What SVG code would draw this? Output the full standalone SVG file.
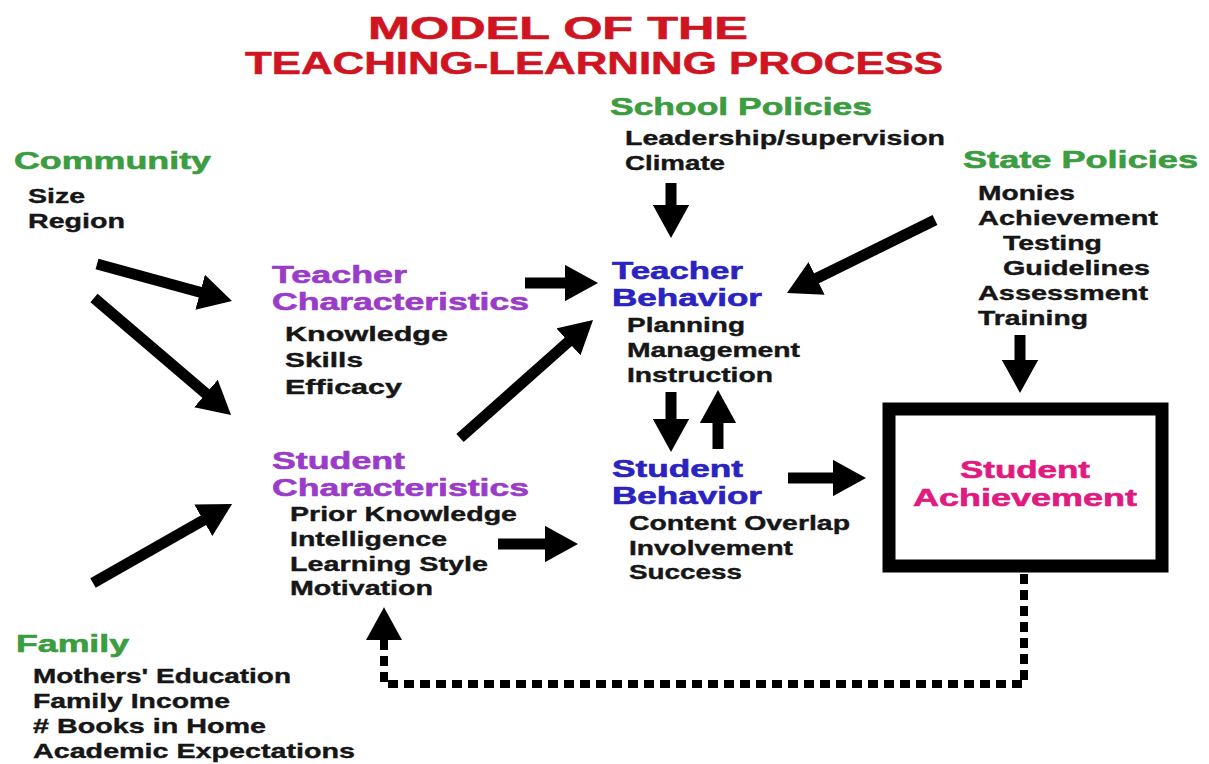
<svg xmlns="http://www.w3.org/2000/svg" width="1209" height="764" viewBox="0 0 1209 764">
<style>
text{font-family:"Liberation Sans",Arial,sans-serif;font-weight:bold;stroke-width:0.6px}
.t{font-size:32px;fill:#cf1422;stroke:#cf1422}
.g{font-size:24px;fill:#3c9c40;stroke:#3c9c40}
.p{font-size:24px;fill:#9a3cc8;stroke:#9a3cc8}
.b{font-size:24px;fill:#2b23c0;stroke:#2b23c0}
.m{font-size:24px;fill:#e01a7f;stroke:#e01a7f}
.k{font-size:21px;fill:#161616;stroke:#161616;stroke-width:0.4px}
.arr{stroke:#000;stroke-width:11;fill:none;marker-end:url(#ah)}
.dash{stroke:#000;stroke-width:8;fill:none;stroke-dasharray:10 6;marker-end:url(#ah2)}
</style>
<defs>
<marker id="ah" viewBox="0 0 10 11" refX="0.3" refY="5.5" markerWidth="3" markerHeight="3.3" orient="auto" markerUnits="strokeWidth"><path d="M0,0 L10,5.5 L0,11 z" fill="#000"/></marker>
<marker id="ah2" viewBox="0 0 10 11" refX="0.3" refY="5.5" markerWidth="4.1" markerHeight="4.5" orient="auto" markerUnits="strokeWidth"><path d="M0,0 L10,5.5 L0,11 z" fill="#000"/></marker>
</defs>
<rect width="1209" height="764" fill="#fff"/>
<g id="title">
<text class="t" x="368" y="39" textLength="380" lengthAdjust="spacingAndGlyphs">MODEL OF THE</text>
<text class="t" x="245" y="74" textLength="698" lengthAdjust="spacingAndGlyphs">TEACHING-LEARNING PROCESS</text>
</g>
<g id="school-policies">
<text class="g" x="610" y="115" textLength="262" lengthAdjust="spacingAndGlyphs">School Policies</text>
<text class="k" x="625" y="145" textLength="320" lengthAdjust="spacingAndGlyphs">Leadership/supervision</text>
<text class="k" x="625" y="170" textLength="100" lengthAdjust="spacingAndGlyphs">Climate</text>
</g>
<g id="community">
<text class="g" x="14" y="169" textLength="197" lengthAdjust="spacingAndGlyphs">Community</text>
<text class="k" x="28" y="203" textLength="57" lengthAdjust="spacingAndGlyphs">Size</text>
<text class="k" x="28" y="228" textLength="97" lengthAdjust="spacingAndGlyphs">Region</text>
</g>
<g id="state-policies">
<text class="g" x="963" y="168" textLength="235" lengthAdjust="spacingAndGlyphs">State Policies</text>
<text class="k" x="978" y="200" textLength="97" lengthAdjust="spacingAndGlyphs">Monies</text>
<text class="k" x="978" y="225" textLength="180" lengthAdjust="spacingAndGlyphs">Achievement</text>
<text class="k" x="1003" y="250" textLength="99" lengthAdjust="spacingAndGlyphs">Testing</text>
<text class="k" x="1003" y="275" textLength="147" lengthAdjust="spacingAndGlyphs">Guidelines</text>
<text class="k" x="978" y="300" textLength="170" lengthAdjust="spacingAndGlyphs">Assessment</text>
<text class="k" x="978" y="325" textLength="110" lengthAdjust="spacingAndGlyphs">Training</text>
</g>
<g id="teacher-characteristics">
<text class="p" x="272" y="283" textLength="135" lengthAdjust="spacingAndGlyphs">Teacher</text>
<text class="p" x="272" y="310" textLength="257" lengthAdjust="spacingAndGlyphs">Characteristics</text>
<text class="k" x="285" y="341" textLength="163" lengthAdjust="spacingAndGlyphs">Knowledge</text>
<text class="k" x="285" y="367" textLength="78" lengthAdjust="spacingAndGlyphs">Skills</text>
<text class="k" x="285" y="394" textLength="117" lengthAdjust="spacingAndGlyphs">Efficacy</text>
</g>
<g id="teacher-behavior">
<text class="b" x="612" y="279" textLength="131" lengthAdjust="spacingAndGlyphs">Teacher</text>
<text class="b" x="612" y="306" textLength="150" lengthAdjust="spacingAndGlyphs">Behavior</text>
<text class="k" x="627" y="332" textLength="118" lengthAdjust="spacingAndGlyphs">Planning</text>
<text class="k" x="627" y="357" textLength="173" lengthAdjust="spacingAndGlyphs">Management</text>
<text class="k" x="627" y="382" textLength="146" lengthAdjust="spacingAndGlyphs">Instruction</text>
</g>
<g id="student-characteristics">
<text class="p" x="272" y="469" textLength="133" lengthAdjust="spacingAndGlyphs">Student</text>
<text class="p" x="272" y="496" textLength="257" lengthAdjust="spacingAndGlyphs">Characteristics</text>
<text class="k" x="290" y="521" textLength="227" lengthAdjust="spacingAndGlyphs">Prior Knowledge</text>
<text class="k" x="290" y="546" textLength="157" lengthAdjust="spacingAndGlyphs">Intelligence</text>
<text class="k" x="290" y="571" textLength="198" lengthAdjust="spacingAndGlyphs">Learning Style</text>
<text class="k" x="290" y="595" textLength="143" lengthAdjust="spacingAndGlyphs">Motivation</text>
</g>
<g id="student-behavior">
<text class="b" x="612" y="477" textLength="131" lengthAdjust="spacingAndGlyphs">Student</text>
<text class="b" x="612" y="504" textLength="150" lengthAdjust="spacingAndGlyphs">Behavior</text>
<text class="k" x="629" y="530" textLength="221" lengthAdjust="spacingAndGlyphs">Content Overlap</text>
<text class="k" x="629" y="555" textLength="164" lengthAdjust="spacingAndGlyphs">Involvement</text>
<text class="k" x="629" y="579" textLength="113" lengthAdjust="spacingAndGlyphs">Success</text>
</g>
<g id="student-achievement">
<rect x="889" y="409" width="273" height="157" fill="none" stroke="#000" stroke-width="13"/>
<text class="m" x="960" y="478" textLength="130" lengthAdjust="spacingAndGlyphs">Student</text>
<text class="m" x="913" y="506" textLength="224" lengthAdjust="spacingAndGlyphs">Achievement</text>
</g>
<g id="family">
<text class="g" x="16" y="652" textLength="113" lengthAdjust="spacingAndGlyphs">Family</text>
<text class="k" x="33" y="683" textLength="258" lengthAdjust="spacingAndGlyphs">Mothers' Education</text>
<text class="k" x="33" y="708" textLength="197" lengthAdjust="spacingAndGlyphs">Family Income</text>
<text class="k" x="33" y="733" textLength="233" lengthAdjust="spacingAndGlyphs"># Books in Home</text>
<text class="k" x="33" y="758" textLength="322" lengthAdjust="spacingAndGlyphs">Academic Expectations</text>
</g>
<g id="connectors">
<line class="arr" x1="97" y1="264" x2="201.1" y2="292.5"/>
<line class="arr" x1="94" y1="298" x2="206.7" y2="394.2"/>
<line class="arr" x1="93" y1="583" x2="204.2" y2="519.8"/>
<line class="arr" x1="525" y1="283" x2="566" y2="283"/>
<line class="arr" x1="460" y1="438" x2="569.1" y2="341.2"/>
<line class="arr" x1="498" y1="544" x2="546" y2="544"/>
<line class="arr" x1="671" y1="183" x2="671" y2="206"/>
<line class="arr" x1="935" y1="220" x2="815.7" y2="278.8"/>
<line class="arr" x1="1020" y1="335" x2="1020" y2="361"/>
<line class="arr" x1="671" y1="392" x2="671" y2="420"/>
<line class="arr" x1="718" y1="449" x2="718" y2="422"/>
<line class="arr" x1="788" y1="478" x2="834" y2="478"/>
<path class="dash" d="M1024,574 L1024,684 L384,684 L384,639"/>
</g>
</svg>
